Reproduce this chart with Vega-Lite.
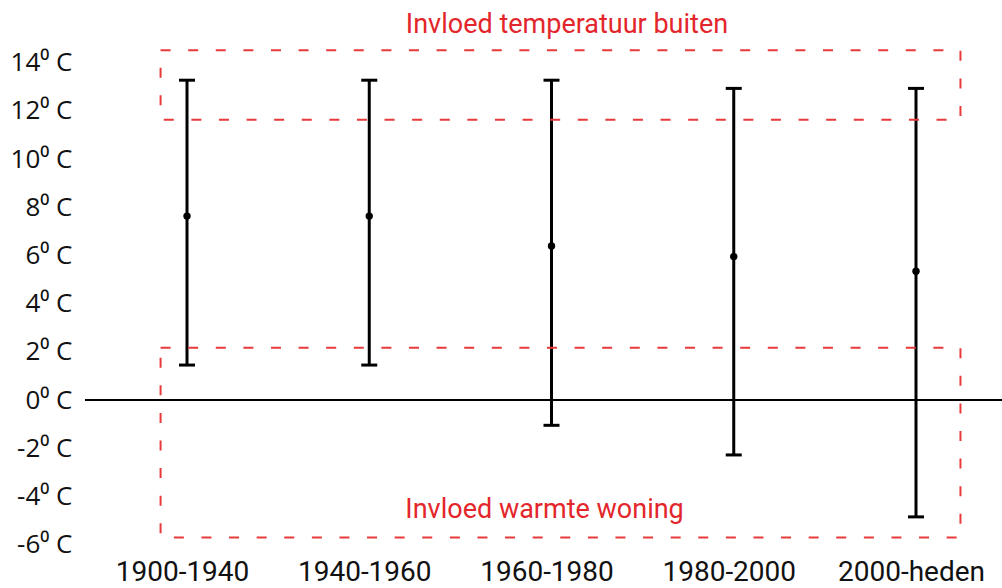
{
  "$schema": "https://vega.github.io/schema/vega-lite/v6.json",
  "autosize": {"type": "none"},
  "padding": {"left": 85, "top": 0, "right": 0, "bottom": 38},
  "width": 917,
  "height": 550,
  "background": "white",
  "config": {"view": {"stroke": null}, "font": "Roboto"},
  "datasets": {
    "bars": [
      {"periode": "1900-1940", "i": 1, "laag": 1.45, "gem": 7.63, "hoog": 13.27},
      {"periode": "1940-1960", "i": 2, "laag": 1.45, "gem": 7.63, "hoog": 13.27},
      {"periode": "1960-1980", "i": 3, "laag": -1.05, "gem": 6.39, "hoog": 13.27},
      {"periode": "1980-2000", "i": 4, "laag": -2.28, "gem": 5.95, "hoog": 12.93},
      {"periode": "2000-heden", "i": 5, "laag": -4.85, "gem": 5.34, "hoog": 12.93}
    ],
    "boxes": [
      {"naam": "buiten", "x1": 0.855, "x2": 5.244, "y1": 11.63, "y2": 14.51},
      {"naam": "woning", "x1": 0.855, "x2": 5.244, "y1": -5.71, "y2": 2.17}
    ],
    "labels": [
      {"tekst": "Invloed temperatuur buiten", "x": 3.085, "y": 15.23},
      {"tekst": "Invloed warmte woning", "x": 2.962, "y": -4.9}
    ]
  },
  "layer": [
    {
      "data": {"values": [{"nul": 0}]},
      "mark": {"type": "rule", "color": "#000000", "strokeWidth": 2},
      "encoding": {
        "y": {"field": "nul", "type": "quantitative", "scale": {"domain": [-6.224, 16.598], "nice": false, "zero": false},
          "axis": {"values": [-6, -4, -2, 0, 2, 4, 6, 8, 10, 12, 14], "labelExpr": "datum.value + '⁰ C'", "title": null, "grid": false, "domain": false, "ticks": false, "labelPadding": 13, "labelFontSize": 26, "labelColor": "#111111", "labelFont": "Open Sans"}}
      }
    },
    {
      "data": {"name": "bars"},
      "mark": {"type": "rule", "color": "#000000", "strokeWidth": 3},
      "encoding": {
        "x": {"field": "i", "type": "quantitative", "scale": {"domain": [0.4403, 5.4719], "nice": false, "zero": false},
          "axis": {"values": [1, 2, 3, 4, 5], "labelExpr": "['1900-1940','1940-1960','1960-1980','1980-2000','2000-heden'][datum.value - 1]", "title": null, "grid": false, "domain": false, "ticks": false, "labelPadding": 8, "labelOffset": -5, "labelFontSize": 28, "labelColor": "#111111", "labelFont": "Roboto", "labelOverlap": false, "labelFlush": false}},
        "y": {"field": "laag", "type": "quantitative"},
        "y2": {"field": "hoog"}
      }
    },
    {
      "data": {"name": "bars"},
      "mark": {"type": "tick", "orient": "horizontal", "color": "#000000", "size": 16, "thickness": 3, "opacity": 1},
      "encoding": {
        "x": {"field": "i", "type": "quantitative"},
        "y": {"field": "hoog", "type": "quantitative"}
      }
    },
    {
      "data": {"name": "bars"},
      "mark": {"type": "tick", "orient": "horizontal", "color": "#000000", "size": 16, "thickness": 3, "opacity": 1},
      "encoding": {
        "x": {"field": "i", "type": "quantitative"},
        "y": {"field": "laag", "type": "quantitative"}
      }
    },
    {
      "data": {"name": "bars"},
      "mark": {"type": "circle", "color": "#000000", "size": 55, "opacity": 1},
      "encoding": {
        "x": {"field": "i", "type": "quantitative"},
        "y": {"field": "gem", "type": "quantitative"}
      }
    },
    {
      "data": {"name": "boxes"},
      "mark": {"type": "rect", "fill": null, "fillOpacity": 0, "stroke": "#e83a3a", "strokeWidth": 2, "strokeDash": [10, 17.6]},
      "encoding": {
        "x": {"field": "x1", "type": "quantitative"},
        "x2": {"field": "x2"},
        "y": {"field": "y1", "type": "quantitative"},
        "y2": {"field": "y2"}
      }
    },
    {
      "data": {"name": "labels"},
      "mark": {"type": "text", "color": "#e3262b", "fontSize": 27, "font": "Roboto", "align": "center", "baseline": "alphabetic"},
      "encoding": {
        "x": {"field": "x", "type": "quantitative"},
        "y": {"field": "y", "type": "quantitative"},
        "text": {"field": "tekst"}
      }
    }
  ]
}
